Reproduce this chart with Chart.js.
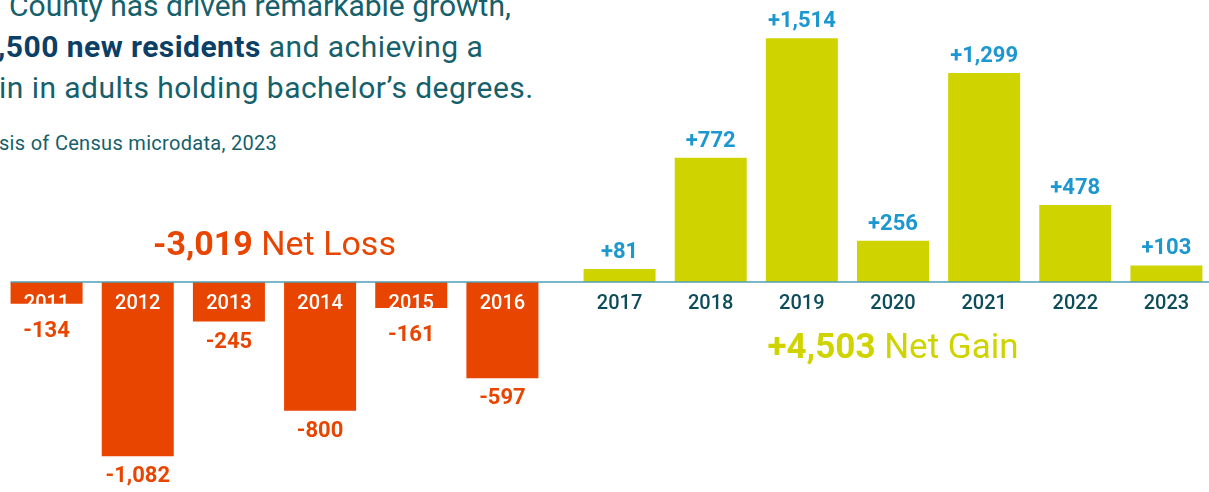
<!DOCTYPE html>
<html><head><meta charset="utf-8">
<script src="https://cdn.jsdelivr.net/npm/chart.js@4"></script>
<style>
html,body{margin:0;padding:0;background:#fff;}
body{width:1209px;height:492px;overflow:hidden;position:relative;font-family:Roboto,"Noto Sans",sans-serif;}
.t{position:absolute;white-space:nowrap;color:#15606b;font-size:30px;line-height:30px;letter-spacing:0.45px;}
.t b{color:#0c3f66;font-weight:700;}
.src{position:absolute;white-space:nowrap;color:#15606b;font-size:20px;line-height:20px;letter-spacing:0.3px;}
canvas{position:absolute;top:0;}
</style></head><body>
<div class="t" style="left:9px;top:-9px;letter-spacing:0">County has driven remarkable growth,</div>
<div class="t" style="left:-2px;top:32px"><b>,500 new residents</b> and achieving a</div>
<div class="t" style="left:-1px;top:73px">in in adults holding bachelor’s degrees.</div>
<div class="src" style="left:-1px;top:133px">sis of Census microdata, 2023</div>
<canvas id="cL" width="573" height="492" style="left:1px"></canvas>
<canvas id="cR" width="638" height="492" style="left:574px"></canvas>
<script>
// ---- data ----
const lossYears = ['2011','2012','2013','2014','2015','2016'];
const lossValues = [-134,-1082,-245,-800,-161,-597];
const gainYears = ['2017','2018','2019','2020','2021','2022','2023'];
const gainValues = [81,772,1514,256,1299,478,103];
const yMin = -1304, yMax = 1752;

const ORANGE = '#e84500', GREEN = '#cfd400', BLUE = '#1d97d0', DARK = '#0d4d5a', LINE = '#4f9fb6';
const fmt = v => Math.abs(v).toLocaleString('en-US');

function makePlugin(kind){
  return {
    id: 'labels' + kind,
    afterDatasetsDraw(chart){
      const ctx = chart.ctx;
      const meta = chart.getDatasetMeta(0);
      const y0 = chart.scales.y.getPixelForValue(0);
      const vals = chart.data.datasets[0].data;
      const labels = chart.data.labels;
      ctx.save();
      // baseline
      const first = meta.data[0];
      const xs = kind === 'loss' ? first.x - first.width/2 : 0;
      ctx.strokeStyle = LINE; ctx.lineWidth = 1.5;
      ctx.beginPath(); ctx.moveTo(xs, y0); ctx.lineTo(chart.width, y0); ctx.stroke();
      ctx.textAlign = 'center'; ctx.textBaseline = 'alphabetic';
      meta.data.forEach((bar, i) => {
        const v = vals[i];
        // year label
        ctx.font = '500 20px Roboto';
        ctx.fillStyle = kind === 'loss' ? '#ffffff' : DARK;
        ctx.fillText(labels[i], bar.x, y0 + 27);
        // value label
        ctx.font = '700 22px Roboto';
        if (kind === 'loss'){
          ctx.fillStyle = ORANGE;
          const h = bar.y - y0;
          ctx.fillText('-' + fmt(v), bar.x, bar.y + (h < 30 ? 33 : 26));
        } else {
          ctx.fillStyle = BLUE;
          ctx.fillText('+' + fmt(v), bar.x, bar.y - 11);
        }
      });
      // total label
      const total = vals.reduce((a,b)=>a+b,0);
      const boldTxt = (total < 0 ? '-' : '+') + fmt(total);
      const regTxt = kind === 'loss' ? ' Net Loss' : ' Net Gain';
      const fs = kind === 'loss' ? 34 : 35;
      ctx.font = `700 ${fs}px Roboto`; const wb = ctx.measureText(boldTxt).width;
      ctx.font = `400 ${fs}px Roboto`; const wr = ctx.measureText(regTxt).width;
      const cx = (chart.chartArea.left + chart.chartArea.right)/2;
      const by = kind === 'loss' ? y0 - 27 : y0 + 76;
      const sx = cx - (wb + wr)/2;
      ctx.textAlign = 'left';
      ctx.fillStyle = kind === 'loss' ? ORANGE : GREEN;
      ctx.font = `700 ${fs}px Roboto`; ctx.fillText(boldTxt, sx, by);
      ctx.font = `400 ${fs}px Roboto`; ctx.fillText(regTxt, sx + wb, by);
      ctx.restore();
    }
  };
}

function makeChart(id, labels, values, color, kind, padRight){
  return new Chart(document.getElementById(id), {
    type: 'bar',
    data: { labels, datasets: [{ data: values, backgroundColor: color, borderWidth: 0,
      barPercentage: 0.79, categoryPercentage: 1 }] },
    options: {
      responsive: false, animation: false, events: [],
      layout: { padding: { left: 0, right: padRight, top: 0, bottom: 0 } },
      plugins: { legend: { display: false }, tooltip: { enabled: false } },
      scales: {
        x: { display: false },
        y: { display: false, min: yMin, max: yMax }
      }
    },
    plugins: [makePlugin(kind)]
  });
}
makeChart('cL', lossYears, lossValues, ORANGE, 'loss', 26);
makeChart('cR', gainYears, gainValues, GREEN, 'gain', 0);
</script>
</body></html>
